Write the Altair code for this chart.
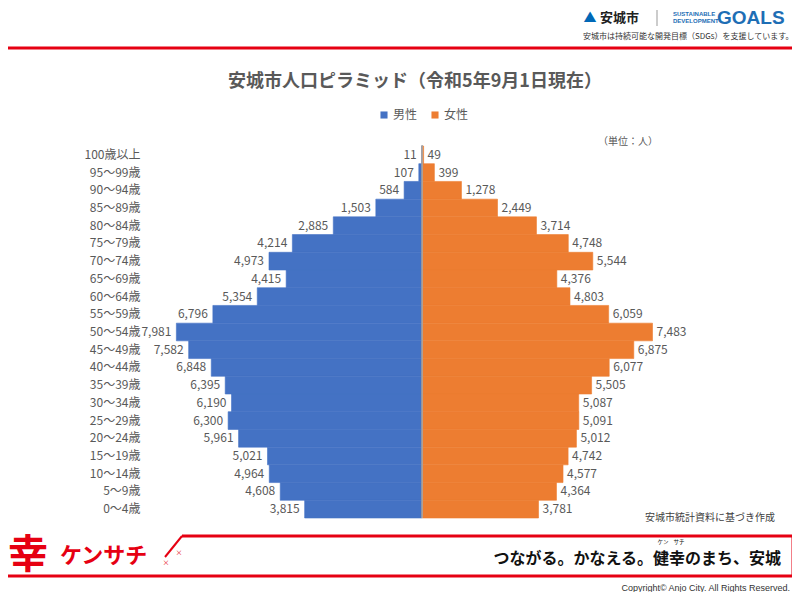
import altair as alt
import pandas as pd

# ---- data ----
ages = ["100歳以上", "95～99歳", "90～94歳", "85～89歳", "80～84歳", "75～79歳", "70～74歳",
        "65～69歳", "60～64歳", "55～59歳", "50～54歳", "45～49歳", "40～44歳", "35～39歳",
        "30～34歳", "25～29歳", "20～24歳", "15～19歳", "10～14歳", "5～9歳", "0～4歳"]
male = [11, 107, 584, 1503, 2885, 4214, 4973, 4415, 5354, 6796, 7981, 7582, 6848, 6395,
        6190, 6300, 5961, 5021, 4964, 4608, 3815]
female = [49, 399, 1278, 2449, 3714, 4748, 5544, 4376, 4803, 6059, 7483, 6875, 6077, 5505,
          5087, 5091, 5012, 4742, 4577, 4364, 3781]
sexes = ["男性", "女性"]
colors = ["#4472C4", "#ED7D31"]

rows = []
for a, m, f in zip(ages, male, female):
    rows.append({"age": a, "sex": "男性", "value": m, "signed": -m, "label": f"{m:,}"})
    rows.append({"age": a, "sex": "女性", "value": f, "signed": f, "label": f"{f:,}"})
df = pd.DataFrame(rows)
df_m = df[df.sex == "男性"]
df_f = df[df.sex == "女性"]

FONT = "Noto Sans CJK JP"
GRAY = "#595959"
RED = "#E60012"
W, H = 585, 372
PL, PT = 137, 138
OX, OY = 8 + PL, 8 + PT


def px(x):
    return x - OX


def py(y):
    return y - OY


one = pd.DataFrame({"a": [1]})

xscale = alt.Scale(domain=[-9000, 10000], nice=False)
ysort = ages
yscale = alt.Scale(paddingInner=0, paddingOuter=0)
cscale = alt.Scale(domain=sexes, range=colors)

bars = alt.Chart(df).mark_bar(strokeWidth=0.6).encode(
    x=alt.X("signed:Q", scale=xscale, axis=None),
    y=alt.Y("age:N", sort=ysort, scale=yscale,
            axis=alt.Axis(title=None, domain=False, ticks=False, labelPadding=5,
                          labelFontSize=12, labelColor=GRAY, labelFont=FONT)),
    color=alt.Color("sex:N", scale=cscale,
                    legend=alt.Legend(title=None, orient="none", legendX=px(378), legendY=py(109),
                                      direction="horizontal", symbolType="square", symbolSize=50,
                                      labelFontSize=12, labelColor=GRAY, labelFont=FONT,
                                      columnPadding=11, symbolStrokeWidth=0, labelOffset=3)),
    stroke=alt.Stroke("sex:N", scale=cscale, legend=None),
)

center = alt.Chart(one).mark_rule(color="#A6A6A6", strokeWidth=1.5).encode(
    x=alt.datum(0), y=alt.value(-1), y2=alt.value(H)
)

mtext = alt.Chart(df_m).mark_text(align="right", dx=-5, fontSize=12, color=GRAY, font=FONT).encode(
    x=alt.X("signed:Q", scale=xscale), y=alt.Y("age:N", sort=ysort, scale=yscale), text="label:N"
)
ftext = alt.Chart(df_f).mark_text(align="left", dx=4, fontSize=12, color=GRAY, font=FONT).encode(
    x=alt.X("signed:Q", scale=xscale), y=alt.Y("age:N", sort=ysort, scale=yscale), text="label:N"
)


def txt(t, x, y, size, color="#222222", align="left", weight="normal", font=FONT, baseline="middle"):
    return alt.Chart(one).mark_text(text=t, fontSize=size, color=color, align=align,
                                    fontWeight=weight, font=font, baseline=baseline).encode(
        x=alt.value(px(x)), y=alt.value(py(y)))


def hline(x1, x2, y, color=RED, w=3):
    return alt.Chart(one).mark_rule(color=color, strokeWidth=w).encode(
        x=alt.value(px(x1)), x2=alt.value(px(x2)), y=alt.value(py(y)))


def vline(x, y1, y2, color=RED, w=3):
    return alt.Chart(one).mark_rule(color=color, strokeWidth=w).encode(
        x=alt.value(px(x)), y=alt.value(py(y1)), y2=alt.value(py(y2)))


def dline(x1, y1, x2, y2, color=RED, w=3):
    return alt.Chart(one).mark_rule(color=color, strokeWidth=w).encode(
        x=alt.value(px(x1)), y=alt.value(py(y1)), x2=alt.value(px(x2)), y2=alt.value(py(y2)))


decor = [
    # chart texts
    txt("安城市人口ピラミッド（令和5年9月1日現在）", 415, 82, 18, GRAY, "center", "bold"),
    txt("（単位：人）", 598, 142, 10, GRAY),
    txt("安城市統計資料に基づき作成", 775, 518, 10, "#404040", "right"),
    # header
    txt("▲", 590, 18, 13, "#0068B7", "center"),
    txt("安城市", 600, 18, 13, "#222222", "left", "bold"),
    vline(657, 10, 26, "#999999", 1),
    txt("SUSTAINABLE", 673, 14, 6, "#1E6EB5", "left", "bold", "Liberation Sans"),
    txt("DEVELOPMENT", 673, 21, 6, "#1E6EB5", "left", "bold", "Liberation Sans"),
    txt("GOALS", 717, 18, 19, "#1E6EB5", "left", "bold", "Liberation Sans"),
    txt("安城市は持続可能な開発目標（SDGs）を支援しています。", 583, 37, 8, "#333333"),
    hline(5, 795, 48),
    # footer
    hline(182, 793, 536),
    hline(5, 793, 576),
    vline(793, 536, 576),
    dline(165, 557, 182, 536, RED, 2),
    txt("幸", 28, 556, 40, RED, "center", "bold"),
    txt("ケンサチ", 60, 556, 22, RED, "left", "bold"),
    txt("×", 179, 553, 7, RED, "center"),
    txt("×", 166, 563, 7, RED, "center"),
    txt("つながる。かなえる。健幸のまち、安城", 781, 559, 16, "#111111", "right", "bold"),
    txt("ケン", 663, 542, 5.5, "#111111", "center"),
    txt("サチ", 679, 542, 5.5, "#111111", "center"),
    txt("Copyright© Anjo City. All Rights Reserved.", 790, 588, 9, "#333333", "right",
        "normal", "Liberation Sans"),
]

chart = alt.layer(bars, center, mtext, ftext, *decor).properties(
    width=W, height=H,
    autosize=alt.AutoSizeParams(type="none"),
    padding={"left": PL, "top": PT, "right": 784 - PL - W, "bottom": 584 - PT - H},
    background="white",
).configure_view(stroke=None)

chart.save("out.html", embed_options={"renderer": "svg", "actions": False})
